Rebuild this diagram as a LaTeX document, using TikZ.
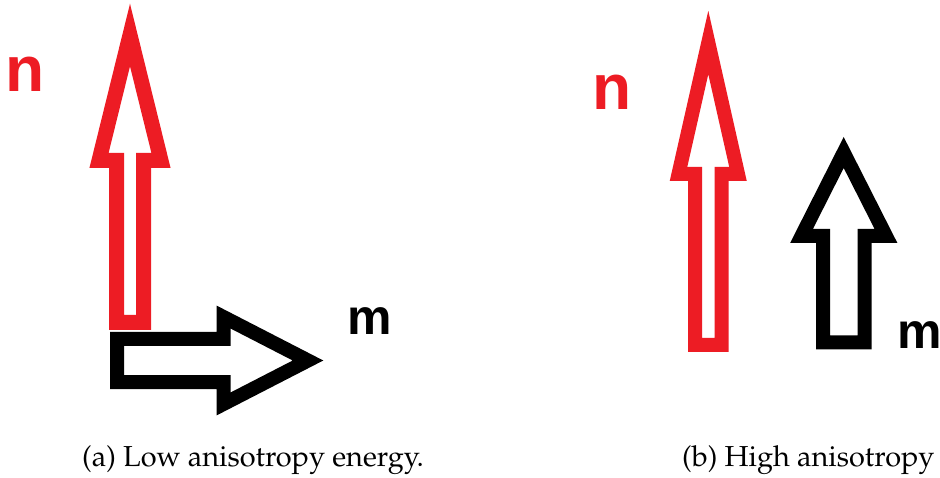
\documentclass[tikz,border=0pt]{standalone}
\usepackage[T1]{fontenc}
\usepackage{fontspec}
\newfontfamily\lblfont{Liberation Sans}
\definecolor{arrred}{HTML}{ED1C24}
\tikzset{
  outlinearrow/.style={line width=14pt, line join=miter, miter limit=10, fill=white},
  lbl/.style={inner sep=0pt, font=\lblfont\bfseries\fontsize{64}{64}\selectfont},
  lblm/.style={inner sep=0pt, font=\lblfont\bfseries\fontsize{50}{50}\selectfont},
  captext/.style={inner sep=0pt, anchor=base west, font=\fontencoding{T1}\fontfamily{ppl}\fontsize{28.9}{34}\selectfont}
}
\begin{document}
\begin{tikzpicture}[x=1pt,y=-1pt]
\useasboundingbox (0,0) rectangle (940,478);
% (a) red arrow n
\draw[outlinearrow, draw=arrred, line width=15pt]
  (116.5,322.5) -- (116.5,160.5) -- (99,160.5) -- (130,35) -- (161,160.5) -- (143.5,160.5) -- (143.5,322.5) -- cycle;
% (a) black arrow m
\draw[outlinearrow, draw=black]
  (117,339) -- (223.5,339) -- (223.5,317) -- (308,360.5) -- (223.5,404) -- (223.5,382) -- (117,382) -- cycle;
% (b) red arrow n
\draw[outlinearrow, draw=arrred]
  (695,345) -- (695,174) -- (678.5,174) -- (708.3,42.5) -- (738,174) -- (721.5,174) -- (721.5,345) -- cycle;
% (b) black arrow m
\draw[outlinearrow, draw=black]
  (823,342.5) -- (823,236) -- (801.5,236) -- (843.7,152.5) -- (886,236) -- (864.5,236) -- (864.5,342.5) -- cycle;
% labels
\node[lbl, text=arrred] (na) at (25,74.5) {n};
\node[lblm] (ma) at (370,321) {m};
\node[lbl, text=arrred] (nb) at (612.5,92.5) {n};
\node[lblm, anchor=west] (mb) at (897,335) {m};
% captions
\node[captext] (capa) at (82,466) {(a) Low anisotropy energy.};
\node[captext] (capb) at (682,466) {(b) High anisotropy};
\end{tikzpicture}
\end{document}
